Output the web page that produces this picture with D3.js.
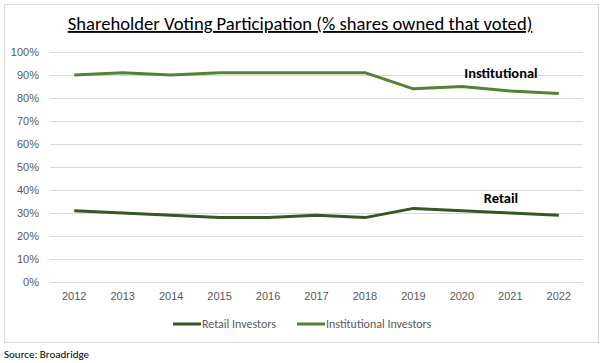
<!DOCTYPE html>
<head>
  <meta charset="utf-8">
  <script src="https://d3js.org/d3.v7.min.js"></script>
  <style>
    body { margin:0; background:#fff; }
    svg { display:block; font-family: Carlito, Calibri, Lato, sans-serif; }
    .grid line { stroke:#d9d9d9; stroke-width:1px; }
    .axis text { fill:#595959; font-size:11px; }
    .line { fill:none; stroke-width:3px; stroke-linejoin:round; }
  </style>
</head>
<body>
  <script>
    // values
    var years = ["2012","2013","2014","2015","2016","2017","2018","2019","2020","2021","2022"];
    var retail = [31, 30, 29, 28, 28, 29, 28, 32, 31, 30, 29];
    var institutional = [90, 91, 90, 91, 91, 91, 91, 84, 85, 83, 82];
    var yTicks = [0, 10, 20, 30, 40, 50, 60, 70, 80, 90, 100];
    var seriesNames = ["Retail Investors", "Institutional Investors"];
    var seriesColors = ["#375623", "#548235"];

    var width = 604, height = 363;
    var margin = {top: 52, right: 21, bottom: 81, left: 50};

    var svg = d3.select("body").append("svg")
      .attr("width", width)
      .attr("height", height)

    // chart frame
    svg.append("rect")
      .attr("x", 4.5).attr("y", 4.5)
      .attr("width", 594).attr("height", 338)
      .attr("fill", "#fff").attr("stroke", "#d9d9d9")

    var x = d3.scaleBand()
        .domain(years)
        .range([margin.left, width - margin.right])

    var y = d3.scaleLinear()
        .domain([0, 100])
        .range([height - margin.bottom, margin.top])

    // gridlines
    svg.append("g").attr("class", "grid")
      .selectAll("line").data(yTicks).enter()
      .append("line")
      .attr("x1", margin.left).attr("x2", width - margin.right)
      .attr("y1", function(d) { return Math.round(y(d)) + 0.5; })
      .attr("y2", function(d) { return Math.round(y(d)) + 0.5; })

    // y axis labels
    var yAxis = d3.axisLeft(y).tickValues(yTicks).tickSize(0).tickPadding(11)
      .tickFormat(function(d) { return d + "%"; })
    svg.append("g").attr("class", "axis")
      .attr("transform", "translate(" + margin.left + ",0)")
      .call(yAxis)
      .call(function(g) { g.select(".domain").remove(); })

    // x axis labels
    var xAxis = d3.axisBottom(x).tickSize(0).tickPadding(10)
    svg.append("g").attr("class", "axis")
      .attr("transform", "translate(0," + y(0) + ")")
      .call(xAxis)
      .call(function(g) { g.select(".domain").remove(); })

    var line = d3.line()
      .x(function(d, i) { return x(years[i]) + x.bandwidth() / 2; })
      .y(function(d) { return y(d); })

    svg.selectAll("path.line").data([retail, institutional]).enter()
      .append("path")
      .attr("class", "line")
      .style("stroke", function(d, i) { return seriesColors[i]; })
      .attr("d", line)

    // series labels
    svg.append("text")
      .attr("x", 501).attr("y", y(90) + 3)
      .attr("text-anchor", "middle")
      .style("font-size", "14.5px").style("font-weight", "bold")
      .text("Institutional")
    svg.append("text")
      .attr("x", 501).attr("y", y(36) + 4)
      .attr("text-anchor", "middle")
      .style("font-size", "14.5px").style("font-weight", "bold")
      .text("Retail")

    // title
    svg.append("text")
      .attr("x", 300).attr("y", 30)
      .attr("text-anchor", "middle")
      .style("font-size", "18.6px")
      .style("text-decoration", "underline")
      .text("Shareholder Voting Participation (% shares owned that voted)")

    // legend
    var legendX = [173, 297];
    var lg = svg.selectAll("g.legend").data(seriesNames).enter()
      .append("g")
      .attr("transform", function(d, i) { return "translate(" + legendX[i] + ",324)"; })
    lg.append("line")
      .attr("x1", 0).attr("x2", 28)
      .attr("stroke", function(d, i) { return seriesColors[i]; })
      .attr("stroke-width", 3)
    lg.append("text")
      .attr("x", 29).attr("y", 4)
      .style("font-size", "12px").style("fill", "#595959")
      .text(function(d) { return d; })

    svg.append("text")
      .attr("x", 4).attr("y", 358)
      .style("font-size", "11px").style("fill", "#000")
      .text("Source: Broadridge")
  </script>
</body>
